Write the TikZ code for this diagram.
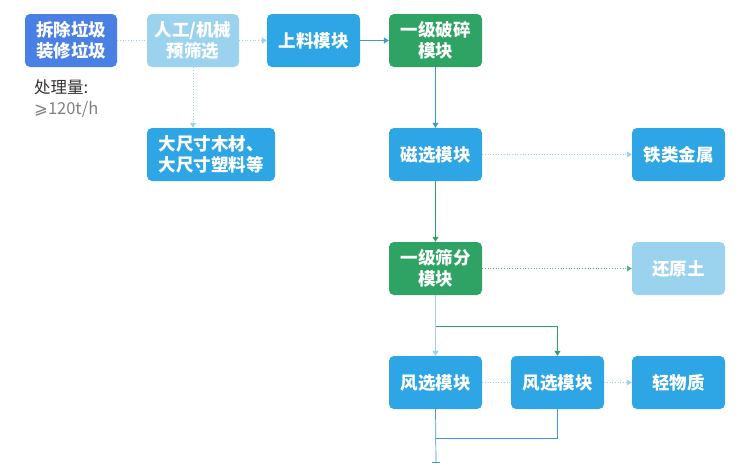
\documentclass[tikz,border=0pt]{standalone}
\usepackage{fontspec}
\setmainfont{Noto Sans CJK SC}
\newfontfamily\djfont{DejaVu Sans}
\usetikzlibrary{arrows.meta}
\definecolor{bl}{HTML}{2EA5E4}
\definecolor{rb}{HTML}{4A80E4}
\definecolor{lb}{HTML}{9BD3EE}
\definecolor{gr}{HTML}{2FA364}
\definecolor{ln}{HTML}{3A9AD6}
\tikzset{box/.style={rounded corners=5pt,text=white,font=\bfseries\fontsize{17.5}{21}\selectfont,align=center,inner sep=0pt},
 sol/.style={ln,line width=0.7pt,-{Triangle[length=5pt,width=6pt]}},
 dot/.style={lb,line width=0.7pt,dotted,-{Triangle[length=5pt,width=6pt]}}}
\begin{document}
\begin{tikzpicture}[x=1pt,y=-1pt]
\useasboundingbox (0,0) rectangle (750,464);
\newcommand\bx[6]{\node[box,fill=#6,minimum width=#4-#2,minimum height=#5-#3] (#1) at ({(#2+#4)/2},{(#3+#5)/2}) {};}
\bx{A}{25}{14}{117}{67}{rb}
\bx{B}{147}{14}{239}{67}{lb}
\bx{C}{267}{14}{360}{67}{bl}
\bx{D}{389}{14}{482}{67}{gr}
\bx{E}{147}{128}{275}{181}{bl}
\bx{F}{389}{128}{482}{181}{bl}
\bx{G}{632}{128}{725}{181}{bl}
\bx{H}{389}{242}{482}{295}{gr}
\bx{I}{632}{242}{725}{295}{lb}
\bx{J}{389}{356}{482}{409}{bl}
\bx{K}{511}{356}{604}{409}{bl}
\bx{L}{632}{356}{725}{409}{bl}
\foreach \n/\t in {A/{拆除垃圾\\装修垃圾},B/{人工/机械\\预筛选},C/{上料模块},D/{一级破碎\\模块},E/{大尺寸木材、\\大尺寸塑料等},F/{磁选模块},G/{铁类金属},H/{一级筛分\\模块},I/{还原土},J/{风选模块},K/{风选模块},L/{轻物质}}
 \node[box] at (\n) {\t};
\node[anchor=north west,align=left,font=\fontsize{16.5}{21}\selectfont,text=black!80,inner sep=0pt] (T) at (34,79) {处理量:\\\textcolor{gray}{{\djfont ⩾}120t/h}};
\draw[lb,line width=0.7pt,dotted] (A) -- (B);
\draw[dot] (B) -- (C);
\draw[sol] (C) -- (D);
\draw[dot] (B.south) -- (E.north -| B.south);
\draw[sol] (D) -- (F);
\draw[dot] (F) -- (G);
\draw[sol,gr] (F) -- (H);
\draw[dot,gr!70!lb] (H) -- (I);
\draw[sol,lb] (H) -- (J);
\coordinate (br) at (436,326);
\draw[sol,gr] (br) -| (K.north);
\draw[lb,line width=0.7pt,dotted] (J) -- (K);
\draw[dot] (K) -- (L);
\coordinate (e) at (436,462);
\draw[ln,line width=0.7pt] (J.south) -- (e);
\draw[ln,line width=0.7pt] (432,462) -- (440,462);
\draw[ln,line width=0.7pt] (K.south) |- (436,438);
\end{tikzpicture}
\end{document}
